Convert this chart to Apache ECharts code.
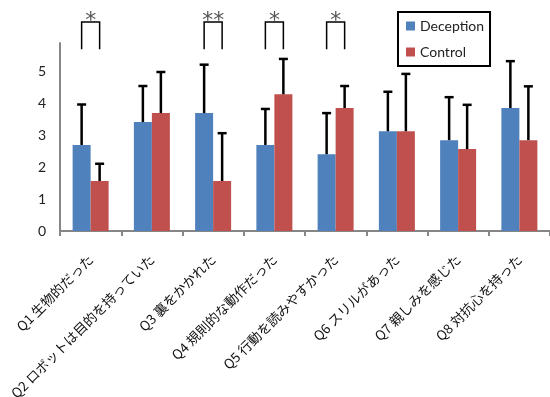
<!DOCTYPE html>
<html>
<head>
<meta charset="utf-8">
<script src="https://cdn.jsdelivr.net/npm/echarts@6/dist/echarts.min.js"></script>
<style>html,body{margin:0;padding:0;background:#fff}#c{width:550px;height:397px}</style>
</head>
<body>
<div id="c"></div>
<script>
const categories = ['Q1 生物的だった','Q2 ロボットは目的を持っていた','Q3 裏をかかれた','Q4 規則的な動作だった','Q5 行動を読みやすかった','Q6 スリルがあった','Q7 親しみを感じた','Q8 対抗心を持った'];
const seriesNames = ['Deception','Control'];
const deceptionMean = [2.70, 3.42, 3.70, 2.70, 2.41, 3.13, 2.85, 3.86];
const deceptionSD   = [1.27, 1.13, 1.52, 1.13, 1.29, 1.24, 1.35, 1.47];
const controlMean   = [1.57, 3.70, 1.57, 4.29, 3.86, 3.13, 2.57, 2.85];
const controlSD     = [0.54, 1.29, 1.50, 1.11, 0.69, 1.80, 1.39, 1.69];
const sigCategories = [0, 2, 3, 4];
const sigLabels     = ['*', '**', '*', '*'];
const bracketTop = 6.56;
const bracketBottom = 5.7;
const yTicks = [0, 1, 2, 3, 4, 5];

const barWidth = 18;
const colors = ['#4F81BD', '#C0504D'];

function errSeries(means, sds, side) {
  return {
    type: 'custom',
    z: 5,
    silent: true,
    data: means.map((m, i) => [i, m, m + sds[i]]),
    renderItem: function (params, api) {
      const base = api.coord([api.value(0), api.value(1)]);
      const top = api.coord([api.value(0), api.value(2)]);
      const x = base[0] + side * barWidth / 2;
      const st = { stroke: '#000', lineWidth: 2.5 };
      return { type: 'group', children: [
        { type: 'line', shape: { x1: x, y1: base[1], x2: x, y2: top[1] }, style: st },
        { type: 'line', shape: { x1: x - 4.5, y1: top[1], x2: x + 4.5, y2: top[1] }, style: st }
      ]};
    }
  };
}

const chart = echarts.init(document.getElementById('c'));
chart.setOption({
  animation: false,
  grid: { left: 60, right: 0, top: 43, bottom: 166, containLabel: false, outerBoundsMode: 'none' },
  legend: {
    data: seriesNames,
    orient: 'vertical',
    left: 398, top: 12,
    padding: [7, 6, 7, 8],
    itemGap: 12,
    itemWidth: 9, itemHeight: 9,
    icon: 'rect',
    borderColor: '#000', borderWidth: 2,
    textStyle: { fontFamily: 'Lato', fontSize: 14, color: '#222' }
  },
  xAxis: {
    type: 'category',
    data: categories,
    boundaryGap: true,
    axisLine: { lineStyle: { color: '#868686', width: 2 } },
    axisTick: { show: true, length: 5, lineStyle: { color: '#868686', width: 2 } },
    axisLabel: { interval: 0, rotate: 45, margin: 26, fontSize: 13.5, fontFamily: 'Noto Sans CJK JP', color: '#111' }
  },
  yAxis: {
    type: 'value',
    min: 0, max: 5.9, interval: 1,
    axisLine: { show: true, lineStyle: { color: '#868686', width: 2 } },
    axisTick: { show: false },
    splitLine: { show: false },
    axisLabel: { showMaxLabel: false, margin: 14, fontSize: 14, fontFamily: 'Lato', color: '#222',
      formatter: v => yTicks.indexOf(v) >= 0 ? String(v) : '' }
  },
  series: [
    { name: seriesNames[0], type: 'bar', data: deceptionMean, barWidth: barWidth, barGap: '0%', itemStyle: { color: colors[0] } },
    { name: seriesNames[1], type: 'bar', data: controlMean, barWidth: barWidth, barGap: '0%', itemStyle: { color: colors[1] } },
    errSeries(deceptionMean, deceptionSD, -1),
    errSeries(controlMean, controlSD, 1),
    {
      type: 'custom',
      silent: true,
      clip: false,
      z: 6,
      data: sigCategories.map((c, i) => [c, sigLabels[i]]),
      renderItem: function (params, api) {
        const cat = api.value(0);
        const t = api.coord([cat, bracketTop]);
        const b = api.coord([cat, bracketBottom]);
        const l = t[0] - barWidth / 2, r = t[0] + barWidth / 2;
        return { type: 'group', children: [
          { type: 'polyline', shape: { points: [[l, b[1]], [l, t[1]], [r, t[1]], [r, b[1]]] }, style: { stroke: '#000', lineWidth: 1.5, fill: null } },
          { type: 'text', x: t[0], y: t[1] - 1, style: { text: sigLabels[params.dataIndex], align: 'center', verticalAlign: 'middle', fontSize: 22, fontFamily: 'DejaVu Sans', fill: '#555' } }
        ]};
      }
    }
  ]
});
</script>
</body>
</html>
